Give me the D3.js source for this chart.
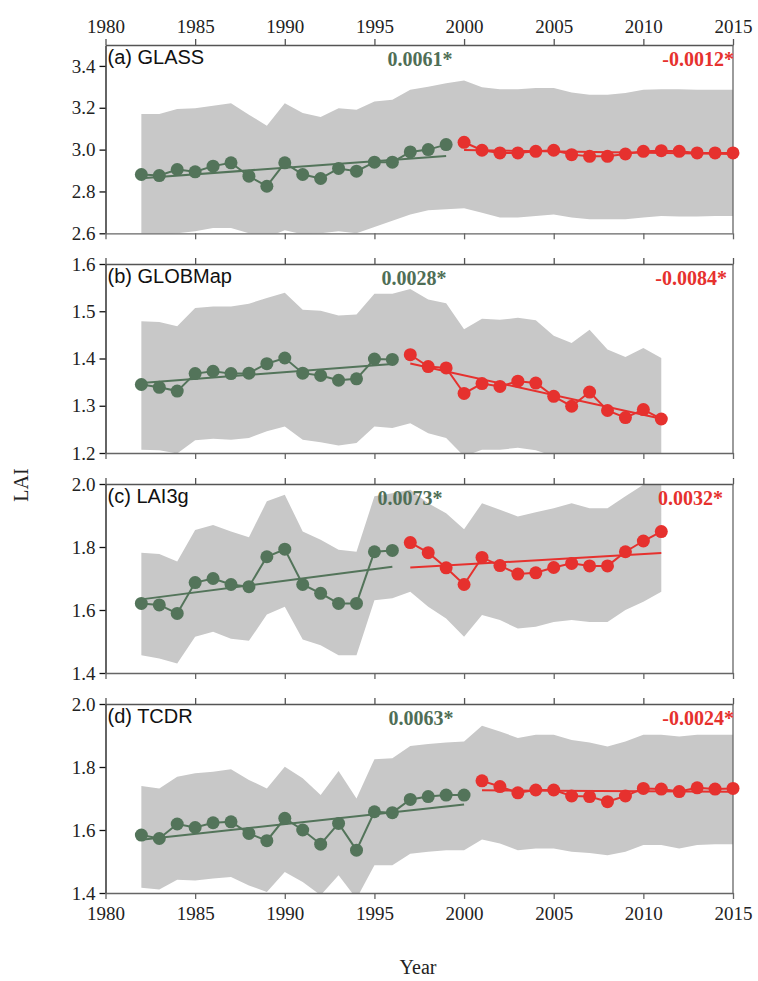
<!DOCTYPE html>
<html><head><meta charset="utf-8">
<script src="https://cdn.jsdelivr.net/npm/d3@7"></script>
<style>body{margin:0;background:#fff}</style>
</head><body><svg id="chart" width="758" height="981"></svg>
<script>
// ---------- DATA ----------
const yearTicks = [1980, 1985, 1990, 1995, 2000, 2005, 2010, 2015];

// (a) GLASS
const glassYearsG = [1982,1983,1984,1985,1986,1987,1988,1989,1990,1991,1992,1993,1994,1995,1996,1997,1998,1999];
const glassG = [2.881,2.876,2.905,2.894,2.921,2.937,2.873,2.825,2.937,2.881,2.862,2.910,2.897,2.940,2.940,2.989,3.000,3.024];
const glassYearsR = [2000,2001,2002,2003,2004,2005,2006,2007,2008,2009,2010,2011,2012,2013,2014,2015];
const glassR = [3.035,2.997,2.984,2.984,2.992,2.997,2.976,2.968,2.968,2.979,2.992,2.995,2.992,2.984,2.984,2.984];
const glassBandYears = [1982,1983,1984,1985,1986,1987,1988,1989,1990,1991,1992,1993,1994,1995,1996,1997,1998,1999,2000,2001,2002,2003,2004,2005,2006,2007,2008,2009,2010,2011,2012,2013,2014,2015];
const glassUpper = [3.17,3.17,3.194,3.198,3.21,3.222,3.167,3.114,3.222,3.175,3.156,3.198,3.19,3.23,3.238,3.286,3.30,3.317,3.33,3.298,3.289,3.289,3.294,3.294,3.273,3.262,3.262,3.27,3.286,3.289,3.289,3.286,3.286,3.286];
const glassLower = [2.58,2.59,2.60,2.61,2.625,2.625,2.60,2.58,2.615,2.595,2.60,2.61,2.60,2.63,2.66,2.69,2.71,2.715,2.72,2.698,2.675,2.675,2.683,2.69,2.675,2.667,2.667,2.667,2.675,2.683,2.68,2.68,2.683,2.683];
const glassTicks = [2.6, 2.8, 3.0, 3.2, 3.4];

// (b) GLOBMap
const globYearsG = [1982,1983,1984,1985,1986,1987,1988,1989,1990,1991,1992,1993,1994,1995,1996];
const globG = [1.345,1.339,1.331,1.368,1.373,1.368,1.369,1.389,1.401,1.369,1.364,1.354,1.357,1.399,1.398];
const globYearsR = [1997,1998,1999,2000,2001,2002,2003,2004,2005,2006,2007,2008,2009,2010,2011];
const globR = [1.408,1.383,1.380,1.326,1.347,1.341,1.352,1.348,1.320,1.299,1.329,1.290,1.275,1.292,1.272];
const globBandYears = [1982,1983,1984,1985,1986,1987,1988,1989,1990,1991,1992,1993,1994,1995,1996,1997,1998,1999,2000,2001,2002,2003,2004,2005,2006,2007,2008,2009,2010,2011];
const globUpper = [1.479,1.477,1.468,1.507,1.510,1.510,1.516,1.528,1.539,1.503,1.501,1.491,1.493,1.537,1.537,1.547,1.525,1.517,1.462,1.484,1.482,1.486,1.481,1.448,1.433,1.461,1.419,1.403,1.422,1.401];
const globLower = [1.207,1.206,1.199,1.227,1.230,1.228,1.232,1.246,1.256,1.228,1.223,1.216,1.221,1.256,1.253,1.263,1.242,1.232,1.193,1.207,1.207,1.211,1.206,1.193,1.182,1.200,1.180,1.180,1.180,1.180];
const globTicks = [1.2, 1.3, 1.4, 1.5, 1.6];

// (c) LAI3g
const lai3gYearsG = [1982,1983,1984,1985,1986,1987,1988,1989,1990,1991,1992,1993,1994,1995,1996];
const lai3gG = [1.621,1.616,1.589,1.687,1.700,1.681,1.674,1.769,1.793,1.681,1.653,1.621,1.621,1.785,1.789];
const lai3gYearsR = [1997,1998,1999,2000,2001,2002,2003,2004,2005,2006,2007,2008,2009,2010,2011];
const lai3gR = [1.814,1.782,1.734,1.681,1.767,1.741,1.714,1.718,1.735,1.748,1.740,1.740,1.785,1.819,1.849];
const lai3gBandYears = [1982,1983,1984,1985,1986,1987,1988,1989,1990,1991,1992,1993,1994,1995,1996,1997,1998,1999,2000,2001,2002,2003,2004,2005,2006,2007,2008,2009,2010,2011];
const lai3gUpper = [1.782,1.778,1.754,1.854,1.870,1.849,1.831,1.945,1.966,1.849,1.823,1.791,1.785,1.961,1.971,1.982,1.939,1.907,1.856,1.939,1.918,1.897,1.910,1.923,1.939,1.923,1.923,1.961,1.998,2.02];
const lai3gLower = [1.456,1.446,1.430,1.515,1.531,1.509,1.502,1.586,1.610,1.506,1.488,1.456,1.456,1.631,1.637,1.658,1.610,1.573,1.515,1.584,1.568,1.541,1.547,1.562,1.568,1.562,1.562,1.600,1.626,1.658];
const lai3gTicks = [1.4, 1.6, 1.8, 2.0];

// (d) TCDR
const tcdrYearsG = [1982,1983,1984,1985,1986,1987,1988,1989,1990,1991,1992,1993,1994,1995,1996,1997,1998,1999,2000];
const tcdrG = [1.584,1.573,1.619,1.608,1.623,1.626,1.589,1.566,1.637,1.600,1.555,1.621,1.536,1.658,1.655,1.697,1.706,1.711,1.711];
const tcdrYearsR = [2001,2002,2003,2004,2005,2006,2007,2008,2009,2010,2011,2012,2013,2014,2015];
const tcdrR = [1.756,1.738,1.718,1.727,1.727,1.708,1.706,1.690,1.708,1.732,1.730,1.722,1.734,1.730,1.732];
const tcdrBandYears = [1982,1983,1984,1985,1986,1987,1988,1989,1990,1991,1992,1993,1994,1995,1996,1997,1998,1999,2000,2001,2002,2003,2004,2005,2006,2007,2008,2009,2010,2011,2012,2013,2014,2015];
const tcdrUpper = [1.740,1.732,1.769,1.780,1.785,1.793,1.759,1.732,1.801,1.764,1.711,1.787,1.700,1.825,1.828,1.867,1.873,1.878,1.881,1.931,1.913,1.892,1.902,1.902,1.886,1.878,1.865,1.881,1.902,1.902,1.897,1.902,1.902,1.902];
const tcdrLower = [1.417,1.411,1.442,1.440,1.446,1.451,1.424,1.403,1.467,1.435,1.393,1.456,1.382,1.488,1.488,1.525,1.531,1.536,1.536,1.570,1.557,1.536,1.541,1.541,1.531,1.527,1.520,1.531,1.552,1.552,1.541,1.552,1.555,1.555];
const tcdrTicks = [1.4, 1.6, 1.8, 2.0];

const panelLabels = ["(a) GLASS", "(b) GLOBMap", "(c) LAI3g", "(d) TCDR"];
const slopeGreen = ["0.0061*", "0.0028*", "0.0073*", "0.0063*"];
const slopeRed = ["-0.0012*", "-0.0084*", "0.0032*", "-0.0024*"];

// ---------- BUILD ----------
const panels = [
  {yg: glassYearsG, g: glassG, yr: glassYearsR, r: glassR, by: glassBandYears, up: glassUpper, lo: glassLower, ticks: glassTicks, domain: [2.6, 3.5]},
  {yg: globYearsG, g: globG, yr: globYearsR, r: globR, by: globBandYears, up: globUpper, lo: globLower, ticks: globTicks, domain: [1.2, 1.6]},
  {yg: lai3gYearsG, g: lai3gG, yr: lai3gYearsR, r: lai3gR, by: lai3gBandYears, up: lai3gUpper, lo: lai3gLower, ticks: lai3gTicks, domain: [1.4, 2.0]},
  {yg: tcdrYearsG, g: tcdrG, yr: tcdrYearsR, r: tcdrR, by: tcdrBandYears, up: tcdrUpper, lo: tcdrLower, ticks: tcdrTicks, domain: [1.4, 2.0]}
];
const layout = [
  {top: 45, bottom: 233.3, greenX: 420, redX: 734},
  {top: 264, bottom: 453, greenX: 414, redX: 727},
  {top: 484, bottom: 673, greenX: 410, redX: 723},
  {top: 704, bottom: 893, greenX: 421, redX: 734}
];

const GREEN = "#53745a", RED = "#e6312e", BAND = "#c8c8c8";
const SERIF = "'Liberation Serif','Times New Roman',serif";
const SANS = "'Liberation Sans',Arial,sans-serif";
const X0 = 105.5, X1 = 733;

const svg = d3.select("#chart");
const x = d3.scaleLinear().domain([1980, 2015]).range([X0, X1]);

function ols(xs, ys) {
  const n = xs.length, mx = d3.mean(xs), my = d3.mean(ys);
  let sxy = 0, sxx = 0;
  for (let i = 0; i < n; i++) { sxy += (xs[i]-mx)*(ys[i]-my); sxx += (xs[i]-mx)**2; }
  const b = sxy / sxx, a = my - b*mx;
  return [[xs[0], a + b*xs[0]], [xs[n-1], a + b*xs[n-1]]];
}

panels.forEach((p, i) => {
  const L = layout[i];
  const y = d3.scaleLinear().domain(p.domain).range([L.bottom, L.top]);
  const g = svg.append("g");

  g.append("clipPath").attr("id", "clip" + i)
    .append("rect").attr("x", X0).attr("y", L.top).attr("width", X1 - X0).attr("height", L.bottom - L.top);

  const band = p.by.map((yr, k) => ({yr, up: p.up[k], lo: p.lo[k]}));
  g.append("path").attr("clip-path", `url(#clip${i})`)
    .datum(band)
    .attr("fill", BAND)
    .attr("d", d3.area().x(d => x(d.yr)).y0(d => y(d.lo)).y1(d => y(d.up)));

  // axes
  const left = g.append("g").attr("transform", `translate(${X0},0)`)
    .call(d3.axisLeft(y).tickValues(p.ticks).tickFormat(d3.format(".1f")).tickSize(6).tickSizeOuter(0).tickPadding(4));
  const top = g.append("g").attr("transform", `translate(0,${L.top})`)
    .call(d3.axisTop(x).tickValues(yearTicks).tickFormat(i === 0 ? d3.format("d") : () => "").tickSize(6).tickSizeOuter(0).tickPadding(6));
  const bot = g.append("g").attr("transform", `translate(0,${L.bottom})`)
    .call(d3.axisBottom(x).tickValues(yearTicks).tickFormat(i === 3 ? d3.format("d") : () => "").tickSize(6).tickSizeOuter(0).tickPadding(8));
  g.append("line").attr("x1", X1).attr("x2", X1).attr("y1", L.top).attr("y2", L.bottom).attr("stroke", "#666").attr("stroke-width", 1.3);

  [left, top, bot].forEach(a => {
    a.selectAll("text").attr("font-family", SERIF).attr("font-size", 19).attr("fill", "#222");
  });
  left.selectAll("path,line").attr("stroke", "#111").attr("stroke-width", 1.3);
  top.selectAll("path,line").attr("stroke", "#555").attr("stroke-width", 1.3);
  bot.selectAll("path,line").attr("stroke", "#666").attr("stroke-width", 1.3);

  // series
  const series = [
    {yrs: p.yg, vals: p.g, color: GREEN},
    {yrs: p.yr, vals: p.r, color: RED}
  ];
  series.forEach(s => {
    const pts = s.yrs.map((yr, k) => [yr, s.vals[k]]);
    const tr = ols(s.yrs, s.vals);
    const line = d3.line().x(d => x(d[0])).y(d => y(d[1]));
    g.append("path").attr("d", line(tr)).attr("fill", "none").attr("stroke", s.color).attr("stroke-width", 2);
    g.append("path").attr("d", line(pts)).attr("fill", "none").attr("stroke", s.color).attr("stroke-width", 2);
    g.selectAll(null).data(pts).join("circle")
      .attr("cx", d => x(d[0])).attr("cy", d => y(d[1])).attr("r", 6.5).attr("fill", s.color);
  });

  // labels
  g.append("text").attr("x", X0 + 2).attr("y", L.top + 18.5)
    .attr("font-family", SANS).attr("font-size", 20).attr("fill", "#111").text(panelLabels[i]);
  g.append("text").attr("x", L.greenX).attr("y", L.top + 20.5).attr("text-anchor", "middle")
    .attr("font-family", SERIF).attr("font-weight", "bold").attr("font-size", 20).attr("fill", "#4f6e56").text(slopeGreen[i]);
  g.append("text").attr("x", L.redX).attr("y", L.top + 20.5).attr("text-anchor", "end")
    .attr("font-family", SERIF).attr("font-weight", "bold").attr("font-size", 20).attr("fill", RED).text(slopeRed[i]);
});

svg.append("text").attr("x", 418).attr("y", 974).attr("text-anchor", "middle")
  .attr("font-family", SERIF).attr("font-size", 20).attr("fill", "#222").text("Year");
svg.append("text").attr("transform", "translate(28,485) rotate(-90)").attr("text-anchor", "middle")
  .attr("font-family", SERIF).attr("font-size", 20).attr("fill", "#222").text("LAI");
</script>
</body></html>
